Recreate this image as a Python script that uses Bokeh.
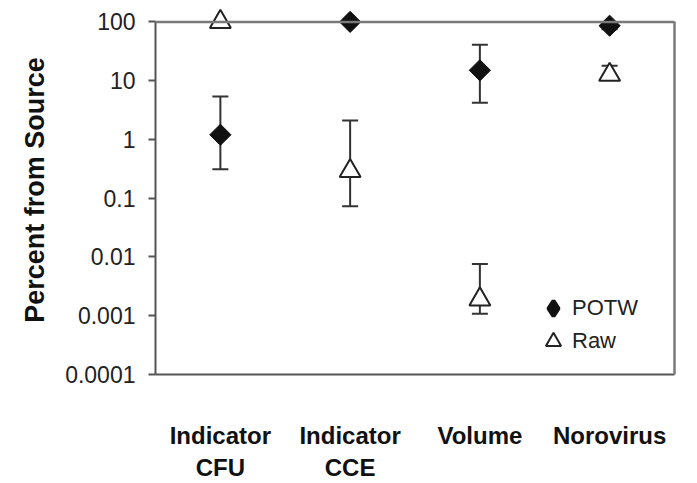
import numpy as np
from bokeh.plotting import figure
from bokeh.models import (Range1d, FixedTicker, ColumnDataSource, Whisker, TeeHead,
                          Legend, LegendItem, Span, LogAxis)
from bokeh.embed import file_html
from bokeh.resources import INLINE

# ---- data ----
categories = ["Indicator\nCFU", "Indicator\nCCE", "Volume", "Norovirus"]
potw = [1.2, 100, 15, 86]
potw_low = [0.31, 100, 4.2, 75]
potw_high = [5.4, 100, 41, 100]
raw = [100, 0.29, 0.0019, 12.6]
raw_low = [100, 0.073, 0.00108, 11]
raw_high = [100, 2.1, 0.0076, 18]
ytick_values = [0.0001, 0.001, 0.01, 0.1, 1, 10, 100]
ytick_labels = ["0.0001", "0.001", "0.01", "0.1", "1", "10", "100"]
series_names = ["POTW", "Raw"]
y_title = "Percent from Source"

Y_MIN, Y_MAX = 0.0001, 100      # plotted axis extent
Y_ROOM = 190                    # extra room so markers at 100 are not clipped

FONT = "Liberation Sans"
BORDER = "#7a7a7a"

p = figure(x_range=categories, y_range=Range1d(Y_MIN, Y_ROOM), y_axis_type="log",
           width=697, height=483, output_backend="svg", toolbar_location=None,
           min_border_left=155, min_border_right=23, min_border_top=5,
           min_border_bottom=108)
p.background_fill_color = "white"
p.border_fill_color = "white"
p.outline_line_color = None
p.xgrid.visible = False
p.ygrid.visible = False

# top border at 100 and right border from 0.0001 to 100
p.add_layout(Span(location=Y_MAX, dimension="width", line_color=BORDER,
                  line_width=2.5))
right_axis = LogAxis(bounds=(Y_MIN, Y_MAX), ticker=FixedTicker(ticks=[]),
                     axis_line_color=BORDER, axis_line_width=2.5,
                     major_tick_line_color=None, minor_tick_line_color=None,
                     major_label_text_font_size="0px")
p.add_layout(right_axis, "right")

# y axis
yax = p.yaxis[0]
yax.bounds = (Y_MIN, Y_MAX)
yax.ticker = FixedTicker(ticks=ytick_values)
yax.major_label_overrides = dict(zip(ytick_values, ytick_labels))
yax.minor_tick_line_color = None
yax.major_tick_in = 0
yax.major_tick_out = 7
yax.major_tick_line_color = "#555555"
yax.major_tick_line_width = 2
yax.axis_line_color = "#555555"
yax.axis_line_width = 2
yax.major_label_text_font = FONT
yax.major_label_text_font_size = "23px"
yax.major_label_text_color = "#222222"
yax.major_label_standoff = 13
yax.axis_label = y_title
yax.axis_label_text_font = FONT
yax.axis_label_text_font_style = "bold"
yax.axis_label_text_font_size = "27px"
yax.axis_label_text_color = "#111111"
yax.axis_label_standoff = 12

# x axis
p.xaxis.major_tick_in = 0
p.xaxis.major_tick_out = 0
p.xaxis.minor_tick_line_color = None
p.xaxis.axis_line_color = "#555555"
p.xaxis.axis_line_width = 2
p.xaxis.major_label_text_font = FONT
p.xaxis.major_label_text_font_style = "bold"
p.xaxis.major_label_text_font_size = "24px"
p.xaxis.major_label_text_color = "#111111"
p.xaxis.major_label_standoff = 47

# error bars
def err_source(vals_low, vals_high):
    xs, lo, hi = [], [], []
    for c, l, h in zip(categories, vals_low, vals_high):
        if h > l:
            xs.append(c); lo.append(l); hi.append(h)
    return ColumnDataSource(dict(x=xs, lower=lo, upper=hi))

for lo, hi in ((potw_low, potw_high), (raw_low, raw_high)):
    src = err_source(lo, hi)
    w = Whisker(source=src, base="x", lower="lower", upper="upper",
                line_color="#333333", line_width=2,
                upper_head=TeeHead(size=16, line_color="#333333", line_width=2),
                lower_head=TeeHead(size=16, line_color="#333333", line_width=2))
    p.add_layout(w)

src_potw = ColumnDataSource(dict(x=categories, y=potw))
src_raw = ColumnDataSource(dict(x=categories, y=raw))

r_potw = p.scatter("x", "y", source=src_potw, marker="square", angle=np.pi / 4,
                   size=15, fill_color="#111111", line_color="#111111", line_width=1)
r_raw = p.scatter("x", "y", source=src_raw, marker="triangle", size=21,
                  fill_color="white", line_color="#222222", line_width=2)

# legend-only renderer (legend markers are drawn unrotated, so use a diamond shape)
r_potw_leg = p.scatter("x", "y", source=src_potw, marker="diamond", size=15,
                       fill_color="#111111", line_color="#111111", line_width=4,
                       visible=False)

def make_legend(label, renderer, loc):
    return Legend(items=[LegendItem(label=label, renderers=[renderer])],
                  location=loc, glyph_width=38, glyph_height=42,
                  label_standoff=0, padding=0, margin=0,
                  border_line_color=None, background_fill_color=None,
                  label_text_font=FONT, label_text_font_size="22px",
                  label_text_color="#222222")

p.add_layout(make_legend(series_names[0], r_potw_leg, (379, 45)))
p.add_layout(make_legend(series_names[1], r_raw, (379, 12)))

open("out.html", "w").write(file_html(p, INLINE))
